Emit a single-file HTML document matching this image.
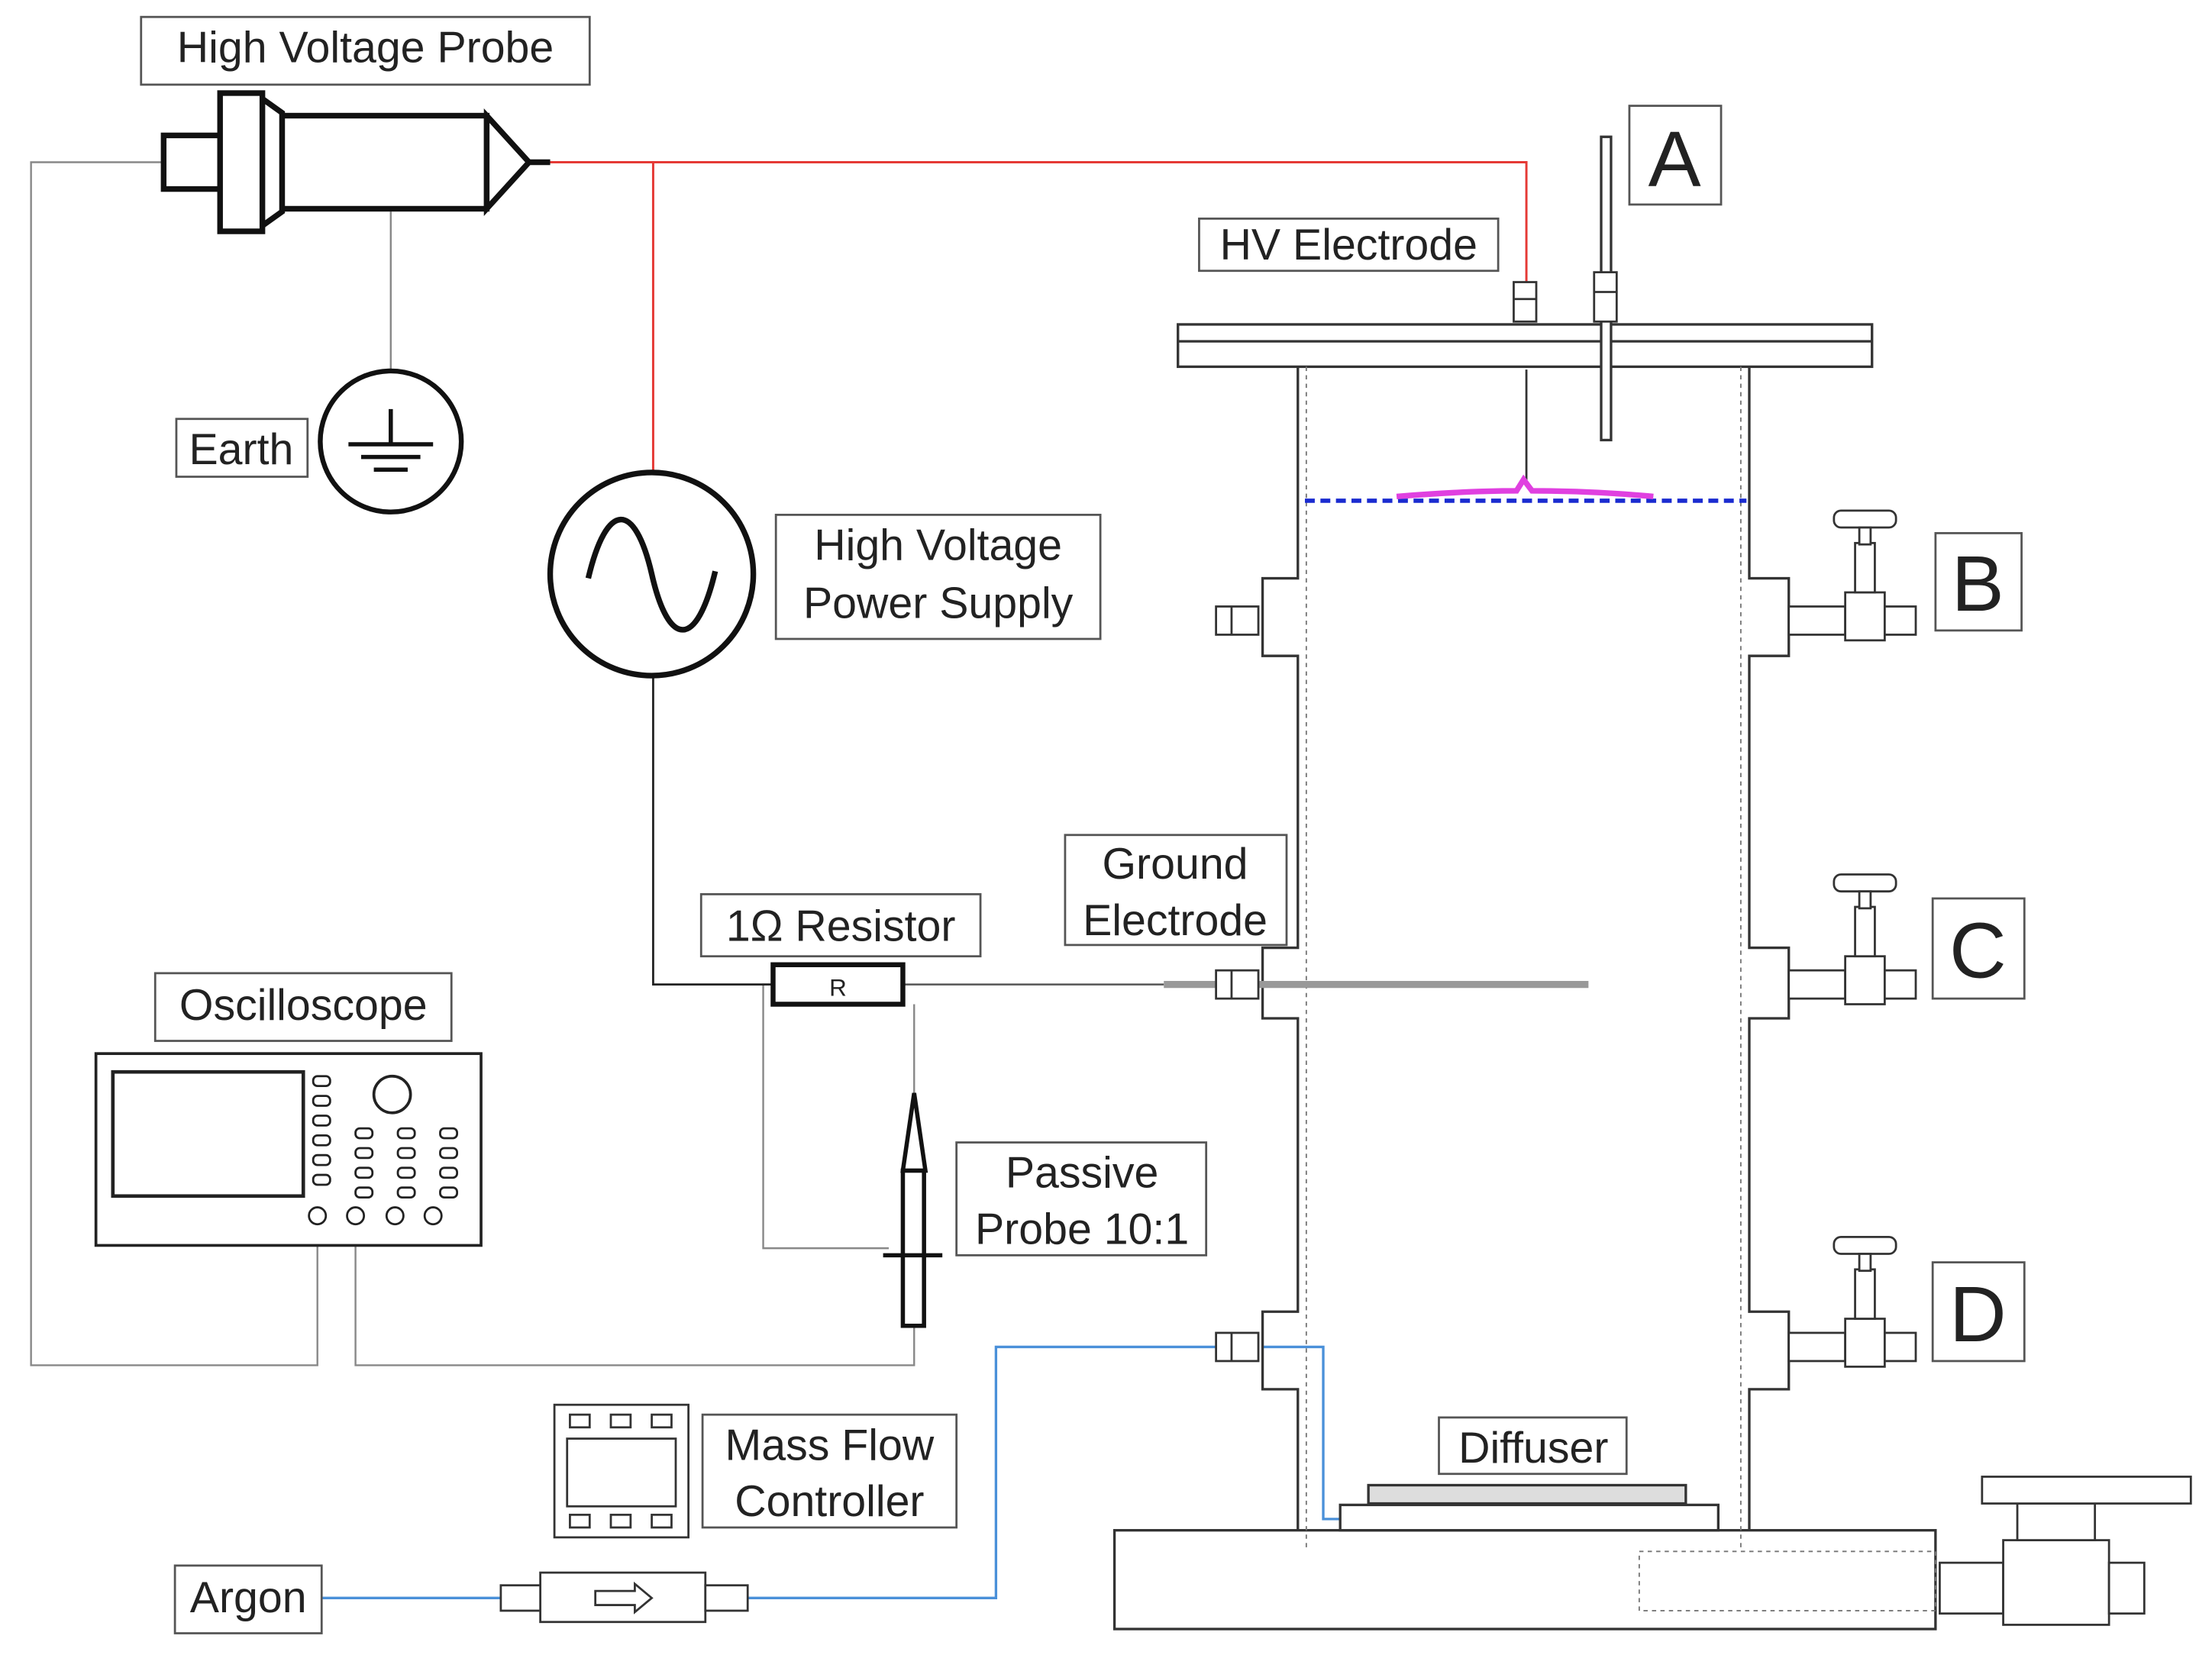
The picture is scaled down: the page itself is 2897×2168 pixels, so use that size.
<!DOCTYPE html>
<html><head><meta charset="utf-8"><style>
html,body{margin:0;padding:0;background:#fff}
svg{display:block}
text{font-family:"Liberation Sans",sans-serif;fill:#222}
</style></head><body>
<svg width="2897" height="2168" viewBox="0 0 1568 1173.4" xmlns="http://www.w3.org/2000/svg">
<rect width="1568" height="1174" fill="#fff"/>
<g fill="none" stroke="#888" stroke-width="1.3">
<polyline points="115,115 22,115 22,968 225,968 225,862"/>
<polyline points="252,862 252,968 648,968 648,940"/>
<line x1="277" y1="150" x2="277" y2="263"/>
<polyline points="548,698 541,698 541,885 630,885"/>
<line x1="648" y1="712" x2="648" y2="775"/>
</g>
<g fill="none" stroke="#e53935" stroke-width="1.6">
<polyline points="390,115 1082,115 1082,200"/>
<line x1="463" y1="115" x2="463" y2="335"/>
</g>
<polyline points="463,480 463,698 548,698" fill="none" stroke="#222" stroke-width="1.5"/>
<line x1="640" y1="698" x2="825" y2="698" stroke="#555" stroke-width="1.3"/>
<g fill="none" stroke="#4a90d9" stroke-width="1.8">
<line x1="228" y1="1133" x2="355" y2="1133"/>
<polyline points="530,1133 706,1133 706,955 870,955"/>
<polyline points="895,955 938,955 938,1077 952,1077"/>
</g>
<g fill="#fff" stroke="#111" stroke-width="4">
<rect x="116" y="96" width="40" height="38"/>
<rect x="156" y="66" width="30" height="98"/>
<path d="M186,70 L200,80 L200,150 L186,160 Z"/>
<rect x="200" y="82" width="145" height="66"/>
<path d="M345,82 L375,115 L345,148 Z"/>
<line x1="375" y1="115" x2="390" y2="115"/>
</g>
<circle cx="277" cy="313" r="50" fill="none" stroke="#111" stroke-width="3.5"/>
<g stroke="#111" stroke-width="3"><line x1="277" y1="290" x2="277" y2="315"/><line x1="247" y1="315" x2="307" y2="315"/><line x1="256" y1="324" x2="298" y2="324"/><line x1="265" y1="333" x2="289" y2="333"/></g>
<circle cx="462" cy="407" r="72" fill="#fff" stroke="#111" stroke-width="4"/>
<path d="M417,410 C430,355 450,355 462,407 C474,460 494,460 507,405" fill="none" stroke="#111" stroke-width="4"/>
<rect x="548" y="684" width="92" height="28" fill="#fff" stroke="#111" stroke-width="3.5"/>
<text x="594" y="706" font-size="17" text-anchor="middle">R</text>
<g fill="#fff" stroke="#111" stroke-width="3">
<path d="M648,775 L656,830 L640,830 Z"/>
<rect x="640" y="830" width="15" height="110"/>
<line x1="626" y1="890" x2="668" y2="890"/>
</g>
<g fill="#fff" stroke="#222" stroke-width="2">
<rect x="68" y="747" width="273" height="136"/>
<rect x="80" y="760" width="135" height="88" stroke-width="2.5"/>
<circle cx="278" cy="776" r="13"/>
<g stroke-width="1.5">
<rect x="222" y="763" width="12" height="7" rx="3"/><rect x="222" y="777" width="12" height="7" rx="3"/><rect x="222" y="791" width="12" height="7" rx="3"/><rect x="222" y="805" width="12" height="7" rx="3"/><rect x="222" y="819" width="12" height="7" rx="3"/><rect x="222" y="833" width="12" height="7" rx="3"/>
<rect x="252" y="800" width="12" height="7" rx="3"/><rect x="252" y="814" width="12" height="7" rx="3"/><rect x="252" y="828" width="12" height="7" rx="3"/><rect x="252" y="842" width="12" height="7" rx="3"/>
<rect x="282" y="800" width="12" height="7" rx="3"/><rect x="282" y="814" width="12" height="7" rx="3"/><rect x="282" y="828" width="12" height="7" rx="3"/><rect x="282" y="842" width="12" height="7" rx="3"/>
<rect x="312" y="800" width="12" height="7" rx="3"/><rect x="312" y="814" width="12" height="7" rx="3"/><rect x="312" y="828" width="12" height="7" rx="3"/><rect x="312" y="842" width="12" height="7" rx="3"/>
<circle cx="225" cy="862" r="6"/><circle cx="252" cy="862" r="6"/><circle cx="280" cy="862" r="6"/><circle cx="307" cy="862" r="6"/>
</g></g>
<g fill="#fff" stroke="#333" stroke-width="1.8">
<rect x="835" y="230" width="492" height="30"/>
<line x1="835" y1="242" x2="1327" y2="242"/>
<path fill="none" d="M920,260 L920,410 L895,410 L895,465 L920,465 L920,672 L895,672 L895,722 L920,722 L920,930 L895,930 L895,985 L920,985 L920,1085"/>
<path fill="none" d="M1240,260 L1240,410 L1268,410 L1268,465 L1240,465 L1240,672 L1268,672 L1268,722 L1240,722 L1240,930 L1268,930 L1268,985 L1240,985 L1240,1085"/>
<rect x="790" y="1085" width="582" height="70"/>
<rect x="950" y="1067" width="268" height="18"/>
<rect x="970" y="1053" width="225" height="13" fill="#ddd"/>
<rect x="1135" y="97" width="7" height="215"/>
</g>
<g stroke="#777" stroke-width="1" stroke-dasharray="3,3" fill="none">
<line x1="926" y1="260" x2="926" y2="1100"/><line x1="1234" y1="260" x2="1234" y2="1100"/>
<rect x="1162" y="1100" width="210" height="42"/>
</g>
<line x1="825" y1="698" x2="1126" y2="698" stroke="#999" stroke-width="5"/>
<line x1="1082" y1="262" x2="1082" y2="345" stroke="#333" stroke-width="1.5"/>
<line x1="925" y1="355" x2="1238" y2="355" stroke="#1a2bd0" stroke-width="3" stroke-dasharray="7,4"/>
<path d="M990,352 Q1040,348 1075,348 L1080,340 L1086,348 Q1130,348 1172,352" fill="none" stroke="#e040e0" stroke-width="4"/>
<g fill="#fff" stroke="#333" stroke-width="1.5">
<rect x="1073" y="200" width="16" height="28"/><line x1="1073" y1="212" x2="1089" y2="212"/>
<rect x="1130" y="193" width="16" height="35"/><line x1="1130" y1="207" x2="1146" y2="207"/>
</g>
<g fill="#fff" stroke="#333" stroke-width="1.5">
<rect x="862" y="430" width="30" height="20"/><line x1="873" y1="430" x2="873" y2="450"/>
<rect x="862" y="688" width="30" height="20"/><line x1="873" y1="688" x2="873" y2="708"/>
<rect x="862" y="945" width="30" height="20"/><line x1="873" y1="945" x2="873" y2="965"/>
</g>
<g fill="#fff" stroke="#333" stroke-width="1.5">
<g id="v"><rect x="1268" y="430" width="40" height="20"/><rect x="1308" y="420" width="28" height="34"/><rect x="1336" y="430" width="22" height="20"/><rect x="1315" y="385" width="14" height="35"/><rect x="1300" y="362" width="44" height="12" rx="5"/><rect x="1318" y="374" width="8" height="12"/></g>
<use href="#v" y="258"/><use href="#v" y="515"/>
<rect x="1375" y="1108" width="45" height="36"/><rect x="1420" y="1092" width="75" height="60"/><rect x="1495" y="1108" width="25" height="36"/>
<rect x="1430" y="1066" width="55" height="26"/><rect x="1405" y="1047" width="148" height="19"/>
<rect x="393" y="996" width="95" height="94"/><rect x="402" y="1020" width="77" height="48"/>
<rect x="404" y="1003" width="14" height="9"/><rect x="433" y="1003" width="14" height="9"/><rect x="462" y="1003" width="14" height="9"/>
<rect x="404" y="1074" width="14" height="9"/><rect x="433" y="1074" width="14" height="9"/><rect x="462" y="1074" width="14" height="9"/>
<rect x="383" y="1115" width="117" height="35"/>
<rect x="355" y="1124" width="28" height="18"/><rect x="500" y="1124" width="30" height="18"/>
</g>
<path d="M422,1128 L450,1128 L450,1123 L462,1133 L450,1143 L450,1138 L422,1138 Z" fill="#fff" stroke="#333" stroke-width="1.5"/>
<g fill="#fff" stroke="#555" stroke-width="1.5">
<rect x="100" y="12" width="318" height="48"/>
<rect x="125" y="297" width="93" height="41"/>
<rect x="550" y="365" width="230" height="88"/>
<rect x="497" y="634" width="198" height="44"/>
<rect x="110" y="690" width="210" height="48"/>
<rect x="755" y="592" width="157" height="78"/>
<rect x="678" y="810" width="177" height="80"/>
<rect x="850" y="155" width="212" height="37"/>
<rect x="1155" y="75" width="65" height="70"/>
<rect x="1372" y="378" width="61" height="69"/>
<rect x="1370" y="637" width="65" height="71"/>
<rect x="1370" y="895" width="65" height="70"/>
<rect x="1020" y="1005" width="133" height="40"/>
<rect x="498" y="1003" width="180" height="80"/>
<rect x="124" y="1110" width="104" height="48"/>
</g>
<g font-size="31">
<text x="259" y="44" text-anchor="middle">High Voltage Probe</text>
<text x="171" y="329" text-anchor="middle">Earth</text>
<text x="665" y="397" text-anchor="middle">High Voltage</text>
<text x="665" y="438" text-anchor="middle">Power Supply</text>
<text x="596" y="667" text-anchor="middle">1Ω Resistor</text>
<text x="215" y="723" text-anchor="middle">Oscilloscope</text>
<text x="833" y="623" text-anchor="middle">Ground</text>
<text x="833" y="663" text-anchor="middle">Electrode</text>
<text x="767" y="842" text-anchor="middle">Passive</text>
<text x="767" y="882" text-anchor="middle">Probe 10:1</text>
<text x="956" y="184" text-anchor="middle">HV Electrode</text>
<text x="1087" y="1037" text-anchor="middle">Diffuser</text>
<text x="588" y="1035" text-anchor="middle">Mass Flow</text>
<text x="588" y="1075" text-anchor="middle">Controller</text>
<text x="176" y="1143" text-anchor="middle">Argon</text>
</g>
<g font-size="56">
<text x="1187" y="132" text-anchor="middle">A</text>
<text x="1402" y="433" text-anchor="middle">B</text>
<text x="1402" y="693" text-anchor="middle">C</text>
<text x="1402" y="951" text-anchor="middle">D</text>
</g>
</svg>
</body></html>
